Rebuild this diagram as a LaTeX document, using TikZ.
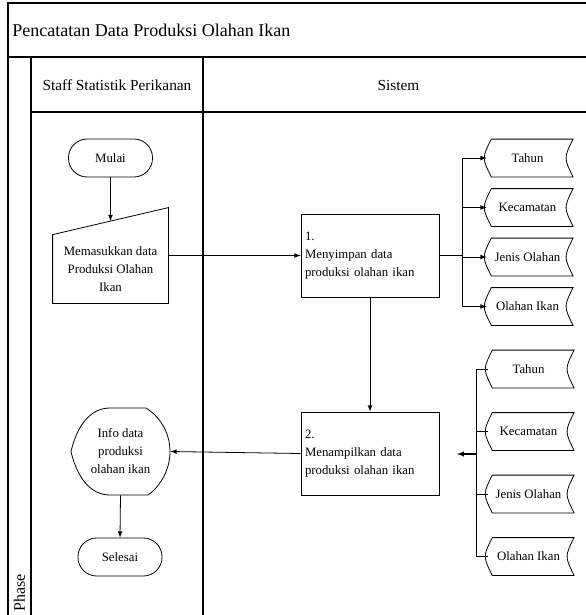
\documentclass[tikz,border=0pt]{standalone}
\usepackage{fontspec}
\setmainfont{Liberation Serif}
\usetikzlibrary{calc}

\begin{document}
\begin{tikzpicture}[x=0.75pt,y=-0.75pt,>=latex,line width=0.6pt,
  every node/.style={font=\fontsize{9.6}{13.5}\selectfont},
  terminal/.style={draw,rounded corners=14pt,minimum width=63pt,minimum height=28.5pt,inner sep=0pt},
  process/.style={draw,align=left,text width=97.5pt,minimum height=62.25pt,inner xsep=3pt},
  storage/.style={minimum width=60.75pt,minimum height=27.75pt,inner sep=0pt},
  lane/.style={line width=1pt}]
\useasboundingbox (0,0) rectangle (586,615);
% swimlane frame
\draw[lane] (586,3)--(8,3)--(8,615);
\draw[lane] (8,57)--(586,57);
\draw[lane] (31,57)--(31,615);
\draw[lane] (203,57)--(203,615);
\draw[lane] (31,112)--(586,112);
\node[anchor=base west,inner sep=0pt,font=\fontsize{13.5}{16}\selectfont] (judul) at (12,36.5) {Pencatatan Data Produksi Olahan Ikan};
\node[font=\fontsize{11.5}{14}\selectfont] (staff) at (117,85) {Staff Statistik Perikanan};
\node[font=\fontsize{11.5}{14}\selectfont] (sistem) at (398.5,85) {Sistem};
\node[anchor=base west,rotate=90,inner sep=0pt,font=\fontsize{12}{14}\selectfont] (phase) at (25,612) {Phase};
% staff lane
\node[terminal] (mulai) at (110.5,158) {Mulai};
\node[align=center,minimum width=86.25pt,minimum height=51pt,inner sep=0pt] (input) at (110.5,269) {Memasukkan data\\Produksi Olahan\\Ikan};
\draw (input.south west)--(input.south east)--($(input.north east)+(0,-27)$)--(input.north west)--cycle;
\coordinate (inTop) at ($(input.north)+(0,-13.5)$);
\draw[->] (mulai.south)--(inTop);
\node[align=center,minimum width=74.25pt,minimum height=65.25pt,inner sep=0pt] (info) at (120.5,451.5) {Info data\\produksi\\olahan ikan};
\draw (71,451.5) .. controls (77,426) and (90,408) .. (110,408)--(146,408)
  .. controls (162,418) and (170,435) .. (170,451.5)
  .. controls (170,468) and (162,485) .. (148,495)--(110,495)
  .. controls (90,495) and (77,477) .. (71,451.5);
\node[terminal] (selesai) at (120,557) {Selesai};
\draw[->] (info.south)--(selesai.north);
% sistem lane
\node[process] (p1) at (370,255.5) {1.\\Menyimpan data\\produksi olahan ikan};
\node[process] (p2) at (370,453.5) {2.\\Menampilkan data\\produksi olahan ikan};
\draw[->] (p1.west -| input.east)--(p1.west);
\draw[->] (p1.south)--(p2.north);
\draw[->] (p2.west)--(info.east);
\coordinate (bus1) at (462,255.5);
\draw[thick] (p1.east)--(bus1);
\foreach \n/\y/\t in {t1/158/Tahun,k1/207.5/Kecamatan,j1/257/Jenis Olahan,o1/306.5/Olahan Ikan}{
  \node[storage] (\n) at (527.5,\y) {\t};
  \draw ([xshift=3.5pt]\n.north west)--([xshift=3.5pt]\n.north east) .. controls ([xshift=-3.5pt]\n.east) .. ([xshift=3.5pt]\n.south east)
    --([xshift=3.5pt]\n.south west) .. controls ([xshift=-3.5pt]\n.west) .. cycle;
  \draw[->] (bus1) |- (\n.west);
}
\coordinate (bus2) at (476,454);
\coordinate (get2) at (457,454);
\foreach \n/\y/\t in {t2/369/Tahun,k2/431.5/Kecamatan,j2/494/Jenis Olahan,o2/556.5/Olahan Ikan}{
  \node[storage] (\n) at (528.5,\y) {\t};
  \draw ([xshift=3.5pt]\n.north west)--([xshift=3.5pt]\n.north east) .. controls ([xshift=-3.5pt]\n.east) .. ([xshift=3.5pt]\n.south east)
    --([xshift=3.5pt]\n.south west) .. controls ([xshift=-3.5pt]\n.west) .. cycle;
  \draw (\n.west) -| (bus2);
}
\draw[->,thick] (bus2)--(get2);
\end{tikzpicture}
\end{document}
